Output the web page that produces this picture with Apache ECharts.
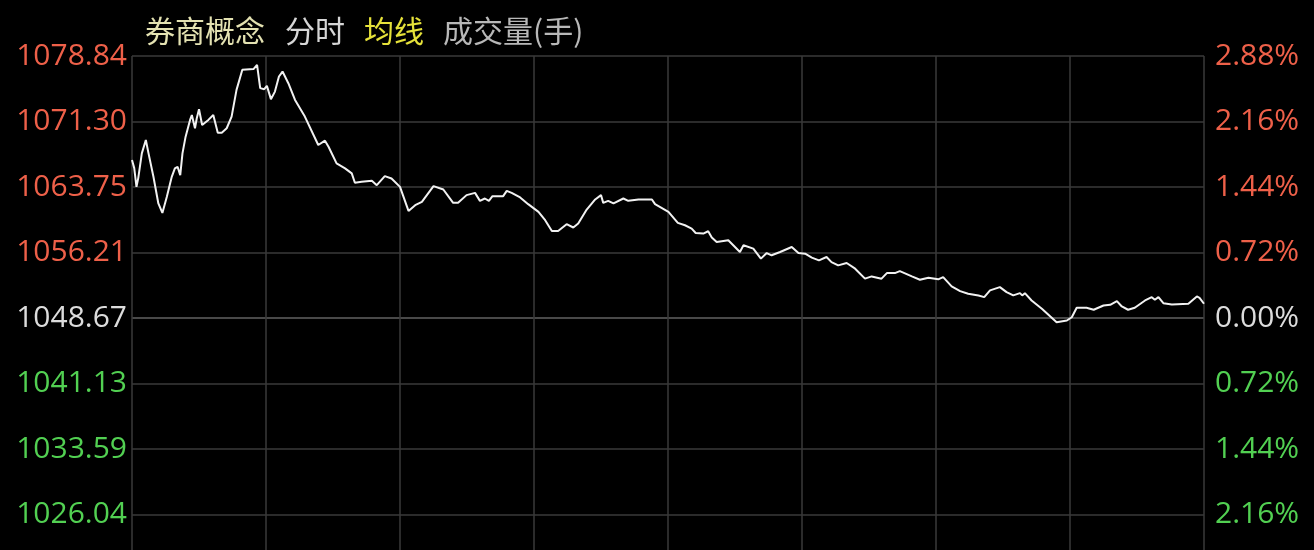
<!DOCTYPE html>
<html>
<head>
<meta charset="utf-8">
<script src="https://cdn.jsdelivr.net/npm/echarts@6/dist/echarts.min.js"></script>
<style>
html,body{margin:0;padding:0;background:#000;}
#chart{width:1314px;height:550px;}
</style>
</head>
<body>
<div id="chart"></div>
<script>
// ---- data ----
var titleParts = ['券商概念', '分时', '均线', '成交量(手)'];
var basePrice = 1048.67;
var yMax = 1078.84;
var yStep = 7.5425;
var leftLabels = ['1078.84', '1071.30', '1063.75', '1056.21', '1048.67', '1041.13', '1033.59', '1026.04'];
var rightLabels = ['2.88%', '2.16%', '1.44%', '0.72%', '0.00%', '0.72%', '1.44%', '2.16%'];
var minutes = [
  0, 0.5, 1, 1.4, 2.2, 3.1, 3.7, 4.8, 5.9, 6.8,
  7.8, 8.9, 9.6, 10.2, 10.8, 11.3, 12, 13, 13.4, 14.1,
  14.5, 15, 15.7, 17.1, 18.2, 19.2, 20.1, 21.2, 22.3, 23.4,
  24.7, 27.2, 28, 28.7, 29.6, 30.2, 31.1, 32, 32.9, 33.7,
  35, 36.5, 38.7, 41.7, 43.2, 44, 45.8, 47.7, 49.2, 49.9,
  51.4, 53.7, 54.8, 56.6, 58.1, 60,
  61.9, 63.4, 64.9, 67.5, 69.7, 71.9, 73, 74.9, 76.8, 77.9,
  79, 79.9, 80.7, 83.1, 83.9, 85, 86.9, 88.7, 91, 92.5,
  94, 95.4, 97.3, 98.8, 99.9, 101.8, 103.7, 105, 105.5, 106.6,
  107.8, 110, 111.1, 113.4, 116.4, 117.1, 120.1,
  122.2, 123.8, 125.3, 126.2, 127.9, 129, 129.8, 130.9, 133.5, 136.1,
  136.9, 139.1, 140.8, 142.1, 143.2, 145.1, 147.7, 149.2, 150.7, 152.2,
  153.8, 155.5, 156.6, 158.1, 160, 161.9, 164.1, 165.6, 167.8, 169,
  170.8, 171.9, 174.6, 176.4, 178.3, 180.5,
  181.6, 183.5, 185.4, 187.2, 189.5, 190.8, 192.1, 194.3, 195.8, 197.3,
  198.8, 199.3, 199.9, 201.4, 203.7, 205.6, 207, 209.3, 210.4, 211.5,
  213.7, 215.3, 217.5, 219, 220.5, 221.6, 223, 224.5, 226.8, 228.3,
  229, 229.8, 230.9, 232.8, 236.5, 238.4, 239, 240
];
var prices = [
  1066.86, 1065.93, 1063.77, 1064.78, 1067.63, 1069.17, 1067.63, 1064.93, 1061.86, 1060.77,
  1062.62, 1064.93, 1065.90, 1066.08, 1065.12, 1067.63, 1069.55, 1071.48, 1072.05, 1070.52,
  1071.67, 1072.71, 1070.90, 1071.48, 1072.05, 1070.01, 1070.01, 1070.52, 1071.86, 1074.94,
  1077.25, 1077.33, 1077.83, 1075.14, 1075.02, 1075.40, 1073.87, 1074.74, 1076.48, 1077.05,
  1075.71, 1073.78, 1071.86, 1068.59, 1069.09, 1068.39, 1066.48, 1065.90, 1065.32, 1064.24,
  1064.35, 1064.47, 1063.97, 1065.01, 1064.74, 1063.77,
  1061.00, 1061.66, 1062.04, 1063.85, 1063.47, 1061.93, 1061.93, 1062.82, 1063.08, 1062.16,
  1062.43, 1062.16, 1062.70, 1062.70, 1063.31, 1063.08, 1062.55, 1061.78, 1060.89, 1059.93,
  1058.69, 1058.69, 1059.47, 1059.09, 1059.55, 1061.16, 1062.32, 1062.82, 1061.93, 1062.16,
  1061.86, 1062.43, 1062.16, 1062.32, 1062.32, 1061.78, 1060.89,
  1059.62, 1059.35, 1058.97, 1058.46, 1058.39, 1058.66, 1057.93, 1057.42, 1057.62, 1056.27,
  1057.04, 1056.66, 1055.51, 1056.15, 1055.89, 1056.27, 1056.85, 1056.15, 1056.08, 1055.62,
  1055.31, 1055.69, 1055.11, 1054.73, 1055.00, 1054.35, 1053.20, 1053.46, 1053.20, 1053.84,
  1053.84, 1054.07, 1053.46, 1053.08, 1053.31, 1053.12,
  1053.38, 1052.31, 1051.76, 1051.46, 1051.27, 1051.07, 1051.85, 1052.23, 1051.65, 1051.27,
  1051.53, 1051.27, 1051.53, 1050.69, 1049.73, 1048.84, 1048.19, 1048.38, 1048.76, 1049.85,
  1049.85, 1049.62, 1050.11, 1050.19, 1050.61, 1050.00, 1049.62, 1049.85, 1050.69, 1051.07,
  1050.77, 1051.07, 1050.38, 1050.23, 1050.31, 1051.15, 1050.99, 1050.31
];

// ---- chart ----
var yMin = +(yMax - 8 * yStep).toFixed(4);
var upColor = '#ee6049', downColor = '#52d052', flatColor = '#dcdcdc';
var gridColor = '#3a3a3a';
function tickIndex(v) { return Math.round((yMax - v) / yStep); }
function labelRich(list) {
  return function (v) {
    var i = tickIndex(v);
    if (i < 0 || i >= list.length) return '';
    var k = i < 4 ? 'u' : (i === 4 ? 'f' : 'd');
    return '{' + k + '|' + list[i] + '}';
  };
}
var richLabel = {
  u: { color: upColor, fontSize: 30, fontFamily: 'Open Sans' },
  f: { color: flatColor, fontSize: 30, fontFamily: 'Open Sans' },
  d: { color: downColor, fontSize: 30, fontFamily: 'Open Sans' }
};
var splitColors = [];
for (var i = 0; i <= 8; i++) splitColors.push(i === 4 ? '#626262' : gridColor);

var titleColors = ['#e4e2b2', '#d6d6d6', '#e6e23a', '#b8b8b8'];
var titleLefts = [145, 285, 364, 443];
var titles = titleParts.map(function (t, i) {
  return {
    text: t, left: titleLefts[i], top: 16, padding: 0,
    textStyle: { color: titleColors[i], fontSize: 30, fontWeight: 'normal', fontFamily: 'Noto Sans CJK SC' }
  };
});

var chart = echarts.init(document.getElementById('chart'));
chart.setOption({
  backgroundColor: '#000',
  animation: false,
  title: titles,
  grid: { left: 132, width: 1072, top: 56, height: 524, containLabel: false, outerBoundsMode: 'none' },
  xAxis: {
    type: 'value', min: 0, max: 240, interval: 30,
    axisLine: { show: false }, axisTick: { show: false }, axisLabel: { show: false },
    splitLine: { show: true, lineStyle: { color: gridColor, width: 1.5 } }
  },
  yAxis: [{
    type: 'value', position: 'left', min: yMin, max: yMax, interval: yStep,
    axisLine: { show: false }, axisTick: { show: false },
    axisLabel: { formatter: labelRich(leftLabels), rich: richLabel, margin: 5 },
    splitLine: { show: true, lineStyle: { color: splitColors, width: 1.5 } }
  }, {
    type: 'value', position: 'right', min: yMin, max: yMax, interval: yStep,
    axisLine: { show: false }, axisTick: { show: false },
    axisLabel: { formatter: labelRich(rightLabels), rich: richLabel, margin: 11 },
    splitLine: { show: false }
  }],
  series: [{
    type: 'line',
    data: minutes.map(function (m, i) { return [m, prices[i]]; }),
    showSymbol: false,
    smooth: false,
    lineStyle: { color: '#f2f2f2', width: 2 }
  }]
});
</script>
</body>
</html>
